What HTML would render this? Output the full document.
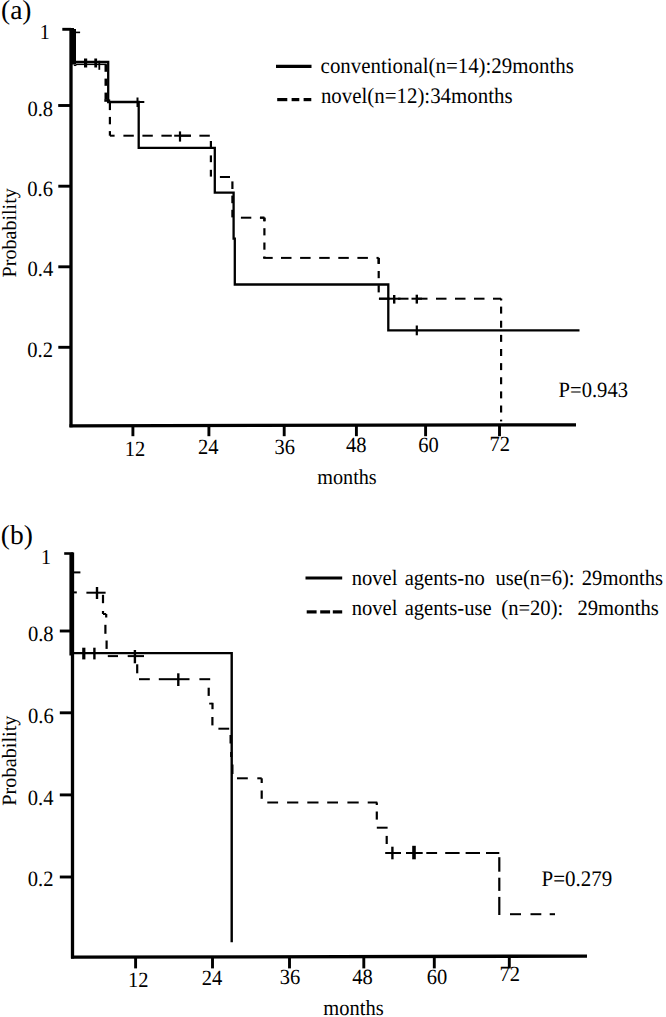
<!DOCTYPE html>
<html><head><meta charset="utf-8"><style>
html,body{margin:0;padding:0;background:#fff;}
svg{display:block;}
text{font-family:"Liberation Serif",serif;fill:#000;text-rendering:geometricPrecision;}
</style></head><body>
<svg width="666" height="1017" viewBox="0 0 666 1017">
<rect width="666" height="1017" fill="#fff"/>
<g stroke="#000" stroke-linecap="butt" fill="none">
<line x1="71.00" y1="28.00" x2="71.00" y2="427.20" stroke-width="3.30"/>
<line x1="69.50" y1="425.80" x2="576.00" y2="424.80" stroke-width="3.30"/>
<line x1="62.30" y1="29.30" x2="71.00" y2="29.30" stroke-width="2.90"/>
<line x1="58.20" y1="105.50" x2="71.00" y2="105.50" stroke-width="2.90"/>
<line x1="58.30" y1="186.20" x2="71.00" y2="186.20" stroke-width="2.90"/>
<line x1="58.30" y1="266.80" x2="71.00" y2="266.80" stroke-width="2.90"/>
<line x1="58.30" y1="347.30" x2="71.00" y2="347.30" stroke-width="2.90"/>
<line x1="70.00" y1="29.30" x2="74.00" y2="29.30" stroke-width="2.60"/>
<line x1="132.90" y1="425.00" x2="132.90" y2="436.20" stroke-width="2.90"/>
<line x1="208.90" y1="425.00" x2="208.90" y2="436.20" stroke-width="2.90"/>
<line x1="284.20" y1="425.00" x2="284.20" y2="436.20" stroke-width="2.90"/>
<line x1="356.40" y1="425.00" x2="356.40" y2="436.20" stroke-width="2.90"/>
<line x1="425.60" y1="425.00" x2="425.60" y2="436.20" stroke-width="2.90"/>
<line x1="499.50" y1="425.00" x2="499.50" y2="436.20" stroke-width="2.90"/>
<path d="M74.5 29.5 V61.9 H108.2 V102.0 H138.7 V147.9 H214.8 V192.7 H233.6 V238.6 H234.8 V284.5 H388.3 V330.3 H579.5" stroke-width="2.30" fill="none"/>
<line x1="137.50" y1="97.50" x2="137.50" y2="107.00" stroke-width="2.00"/>
<line x1="131.00" y1="102.00" x2="144.30" y2="102.00" stroke-width="2.00"/>
<line x1="416.80" y1="325.50" x2="416.80" y2="335.30" stroke-width="2.20"/>
<line x1="74.00" y1="29.00" x2="74.00" y2="64.50" stroke-width="4.00"/>
<path d="M73 32.4 H80.1" stroke-width="1.60" fill="none"/>
<path d="M76 64.3 H106.8" stroke-width="1.60" fill="none"/>
<line x1="73.80" y1="65.30" x2="76.40" y2="65.30" stroke-width="1.50"/>
<line x1="85.60" y1="58.50" x2="85.60" y2="67.50" stroke-width="3.20"/>
<line x1="95.70" y1="58.50" x2="95.70" y2="67.50" stroke-width="2.80"/>
<line x1="99.30" y1="60.80" x2="99.30" y2="69.80" stroke-width="1.80"/>
<line x1="105.80" y1="64.60" x2="105.80" y2="71.80" stroke-width="2.60"/>
<line x1="105.80" y1="78.60" x2="105.80" y2="85.80" stroke-width="2.60"/>
<line x1="105.80" y1="92.60" x2="105.80" y2="99.80" stroke-width="2.60"/>
<line x1="104.30" y1="100.60" x2="110.20" y2="100.60" stroke-width="2.40"/>
<line x1="109.90" y1="102.70" x2="109.90" y2="110.10" stroke-width="2.20"/>
<line x1="109.90" y1="116.90" x2="109.90" y2="124.30" stroke-width="2.20"/>
<line x1="109.90" y1="131.10" x2="109.90" y2="135.70" stroke-width="2.20"/>
<line x1="109.90" y1="135.70" x2="114.60" y2="135.70" stroke-width="2.00"/>
<line x1="123.40" y1="135.70" x2="133.80" y2="135.70" stroke-width="2.00"/>
<line x1="142.40" y1="135.70" x2="152.80" y2="135.70" stroke-width="2.00"/>
<line x1="161.40" y1="135.70" x2="171.80" y2="135.70" stroke-width="2.00"/>
<line x1="180.40" y1="135.70" x2="190.80" y2="135.70" stroke-width="2.00"/>
<line x1="199.40" y1="135.70" x2="209.80" y2="135.70" stroke-width="2.00"/>
<line x1="210.90" y1="141.00" x2="210.90" y2="147.80" stroke-width="2.20"/>
<line x1="210.90" y1="155.40" x2="210.90" y2="162.20" stroke-width="2.20"/>
<line x1="210.90" y1="169.80" x2="210.90" y2="176.60" stroke-width="2.20"/>
<line x1="219.90" y1="177.00" x2="230.00" y2="177.00" stroke-width="2.00"/>
<line x1="232.40" y1="181.40" x2="232.40" y2="189.00" stroke-width="2.20"/>
<line x1="232.40" y1="195.60" x2="232.40" y2="203.20" stroke-width="2.20"/>
<line x1="232.40" y1="209.80" x2="232.40" y2="217.40" stroke-width="2.20"/>
<line x1="240.90" y1="217.70" x2="251.30" y2="217.70" stroke-width="2.00"/>
<line x1="259.90" y1="217.70" x2="264.40" y2="217.70" stroke-width="2.00"/>
<line x1="260.10" y1="217.70" x2="264.40" y2="217.70" stroke-width="2.00"/>
<line x1="264.40" y1="217.70" x2="264.40" y2="221.40" stroke-width="2.20"/>
<line x1="264.40" y1="217.70" x2="264.40" y2="221.10" stroke-width="2.20"/>
<line x1="264.40" y1="228.20" x2="264.40" y2="235.40" stroke-width="2.20"/>
<line x1="264.40" y1="242.50" x2="264.40" y2="249.70" stroke-width="2.20"/>
<line x1="264.40" y1="256.80" x2="264.40" y2="257.90" stroke-width="2.20"/>
<line x1="263.20" y1="257.90" x2="272.70" y2="257.90" stroke-width="2.00"/>
<line x1="264.40" y1="256.60" x2="264.40" y2="257.90" stroke-width="2.20"/>
<line x1="281.00" y1="257.90" x2="291.50" y2="257.90" stroke-width="2.00"/>
<line x1="300.10" y1="257.90" x2="310.60" y2="257.90" stroke-width="2.00"/>
<line x1="319.20" y1="257.90" x2="329.70" y2="257.90" stroke-width="2.00"/>
<line x1="338.30" y1="257.90" x2="348.80" y2="257.90" stroke-width="2.00"/>
<line x1="357.40" y1="257.90" x2="367.90" y2="257.90" stroke-width="2.00"/>
<line x1="376.50" y1="257.90" x2="378.70" y2="257.90" stroke-width="2.00"/>
<line x1="378.70" y1="257.90" x2="378.70" y2="264.00" stroke-width="2.20"/>
<line x1="378.70" y1="271.00" x2="378.70" y2="278.20" stroke-width="2.20"/>
<line x1="378.70" y1="285.20" x2="378.70" y2="292.40" stroke-width="2.20"/>
<line x1="378.70" y1="257.90" x2="378.70" y2="263.70" stroke-width="2.20"/>
<line x1="379.00" y1="298.70" x2="389.50" y2="298.70" stroke-width="2.00"/>
<line x1="398.00" y1="298.70" x2="408.50" y2="298.70" stroke-width="2.00"/>
<line x1="417.00" y1="298.70" x2="427.50" y2="298.70" stroke-width="2.00"/>
<line x1="436.00" y1="298.70" x2="446.50" y2="298.70" stroke-width="2.00"/>
<line x1="455.00" y1="298.70" x2="465.50" y2="298.70" stroke-width="2.00"/>
<line x1="474.00" y1="298.70" x2="484.50" y2="298.70" stroke-width="2.00"/>
<line x1="493.00" y1="298.70" x2="501.10" y2="298.70" stroke-width="2.00"/>
<line x1="378.90" y1="298.70" x2="389.50" y2="298.70" stroke-width="2.00"/>
<line x1="501.10" y1="298.70" x2="501.10" y2="299.47" stroke-width="2.20"/>
<line x1="501.10" y1="306.60" x2="501.10" y2="313.60" stroke-width="2.20"/>
<line x1="501.10" y1="320.73" x2="501.10" y2="327.73" stroke-width="2.20"/>
<line x1="501.10" y1="334.86" x2="501.10" y2="341.86" stroke-width="2.20"/>
<line x1="501.10" y1="348.99" x2="501.10" y2="355.99" stroke-width="2.20"/>
<line x1="501.10" y1="363.12" x2="501.10" y2="370.12" stroke-width="2.20"/>
<line x1="501.10" y1="377.25" x2="501.10" y2="384.25" stroke-width="2.20"/>
<line x1="501.10" y1="391.38" x2="501.10" y2="398.38" stroke-width="2.20"/>
<line x1="501.10" y1="405.51" x2="501.10" y2="412.51" stroke-width="2.20"/>
<line x1="501.10" y1="419.64" x2="501.10" y2="421.40" stroke-width="2.20"/>
<line x1="501.10" y1="298.70" x2="501.10" y2="300.50" stroke-width="2.20"/>
<line x1="180.00" y1="131.40" x2="180.00" y2="141.60" stroke-width="2.20"/>
<line x1="174.20" y1="135.70" x2="191.00" y2="135.70" stroke-width="2.00"/>
<line x1="394.20" y1="295.00" x2="394.20" y2="303.60" stroke-width="2.40"/>
<line x1="388.00" y1="298.70" x2="400.50" y2="298.70" stroke-width="2.00"/>
<line x1="416.80" y1="294.70" x2="416.80" y2="303.60" stroke-width="2.40"/>
<line x1="411.50" y1="298.70" x2="422.00" y2="298.70" stroke-width="2.00"/>
<line x1="276.00" y1="66.30" x2="311.50" y2="66.30" stroke-width="3.20"/>
<line x1="277.20" y1="99.60" x2="287.30" y2="99.60" stroke-width="3.20"/>
<line x1="291.60" y1="99.60" x2="299.30" y2="99.60" stroke-width="3.20"/>
<line x1="303.60" y1="99.60" x2="311.30" y2="99.60" stroke-width="3.20"/>
<line x1="72.50" y1="552.50" x2="72.50" y2="958.60" stroke-width="3.30"/>
<line x1="70.30" y1="553.50" x2="70.30" y2="655.50" stroke-width="1.80"/>
<line x1="71.00" y1="957.20" x2="587.00" y2="956.10" stroke-width="3.30"/>
<line x1="64.20" y1="553.50" x2="73.20" y2="553.50" stroke-width="2.60"/>
<line x1="59.80" y1="631.00" x2="71.00" y2="631.00" stroke-width="2.90"/>
<line x1="59.80" y1="712.80" x2="71.00" y2="712.80" stroke-width="2.90"/>
<line x1="59.80" y1="794.90" x2="71.00" y2="794.90" stroke-width="2.90"/>
<line x1="59.80" y1="877.00" x2="71.00" y2="877.00" stroke-width="2.90"/>
<line x1="135.60" y1="956.50" x2="135.60" y2="968.40" stroke-width="2.90"/>
<line x1="212.50" y1="956.50" x2="212.50" y2="968.40" stroke-width="2.90"/>
<line x1="289.50" y1="956.50" x2="289.50" y2="968.40" stroke-width="2.90"/>
<line x1="363.80" y1="956.50" x2="363.80" y2="968.40" stroke-width="2.90"/>
<line x1="434.30" y1="956.50" x2="434.30" y2="968.40" stroke-width="2.90"/>
<line x1="509.30" y1="956.50" x2="509.30" y2="968.40" stroke-width="2.90"/>
<path d="M73 653.1 H231.7 V942.2" stroke-width="2.40" fill="none"/>
<line x1="83.80" y1="647.70" x2="83.80" y2="659.40" stroke-width="3.20"/>
<line x1="94.40" y1="647.70" x2="94.40" y2="659.40" stroke-width="2.40"/>
<line x1="73.50" y1="572.40" x2="80.40" y2="572.40" stroke-width="2.00"/>
<line x1="73.50" y1="592.40" x2="76.80" y2="592.40" stroke-width="2.00"/>
<line x1="86.40" y1="592.70" x2="105.60" y2="592.70" stroke-width="2.00"/>
<line x1="97.00" y1="587.00" x2="97.00" y2="599.00" stroke-width="2.40"/>
<line x1="103.00" y1="594.80" x2="103.00" y2="603.20" stroke-width="2.20"/>
<line x1="103.00" y1="611.00" x2="103.00" y2="614.00" stroke-width="2.20"/>
<line x1="103.00" y1="614.00" x2="106.20" y2="614.00" stroke-width="2.00"/>
<line x1="106.20" y1="614.00" x2="106.20" y2="617.50" stroke-width="2.20"/>
<line x1="105.40" y1="624.80" x2="105.40" y2="633.80" stroke-width="2.20"/>
<line x1="106.60" y1="640.50" x2="106.60" y2="648.90" stroke-width="2.20"/>
<line x1="107.80" y1="656.10" x2="118.00" y2="656.10" stroke-width="2.00"/>
<line x1="127.70" y1="656.10" x2="144.00" y2="656.10" stroke-width="2.00"/>
<line x1="134.90" y1="650.00" x2="134.90" y2="663.30" stroke-width="2.40"/>
<line x1="137.20" y1="664.30" x2="137.20" y2="673.30" stroke-width="2.20"/>
<line x1="139.00" y1="679.20" x2="149.80" y2="679.20" stroke-width="2.00"/>
<line x1="158.80" y1="679.20" x2="189.50" y2="679.20" stroke-width="2.00"/>
<line x1="178.30" y1="673.30" x2="178.30" y2="686.00" stroke-width="2.40"/>
<line x1="199.40" y1="679.20" x2="210.20" y2="679.20" stroke-width="2.00"/>
<line x1="208.70" y1="687.70" x2="208.70" y2="695.90" stroke-width="2.20"/>
<line x1="212.50" y1="702.80" x2="212.50" y2="709.20" stroke-width="2.20"/>
<line x1="209.20" y1="703.60" x2="212.50" y2="703.60" stroke-width="1.80"/>
<line x1="212.40" y1="717.00" x2="212.40" y2="725.40" stroke-width="2.20"/>
<line x1="218.40" y1="728.70" x2="229.20" y2="728.70" stroke-width="2.00"/>
<line x1="230.60" y1="735.00" x2="230.60" y2="743.50" stroke-width="2.20"/>
<line x1="231.20" y1="752.00" x2="231.20" y2="757.00" stroke-width="2.20"/>
<line x1="232.40" y1="764.50" x2="232.40" y2="774.00" stroke-width="2.20"/>
<line x1="237.00" y1="778.30" x2="247.80" y2="778.30" stroke-width="2.00"/>
<line x1="257.30" y1="778.30" x2="261.70" y2="778.30" stroke-width="2.00"/>
<line x1="261.70" y1="778.30" x2="261.70" y2="783.00" stroke-width="2.20"/>
<line x1="261.70" y1="790.50" x2="261.70" y2="798.80" stroke-width="2.20"/>
<line x1="267.30" y1="802.50" x2="278.10" y2="802.50" stroke-width="2.00"/>
<line x1="287.10" y1="802.50" x2="298.30" y2="802.50" stroke-width="2.00"/>
<line x1="307.30" y1="802.50" x2="318.50" y2="802.50" stroke-width="2.00"/>
<line x1="327.20" y1="802.50" x2="338.00" y2="802.50" stroke-width="2.00"/>
<line x1="347.40" y1="802.50" x2="358.70" y2="802.50" stroke-width="2.00"/>
<line x1="367.70" y1="802.50" x2="377.30" y2="802.50" stroke-width="2.00"/>
<line x1="376.80" y1="802.50" x2="376.80" y2="805.00" stroke-width="2.20"/>
<line x1="376.80" y1="811.50" x2="376.80" y2="819.60" stroke-width="2.20"/>
<line x1="376.80" y1="827.70" x2="387.60" y2="827.70" stroke-width="2.00"/>
<line x1="386.70" y1="835.90" x2="386.70" y2="844.00" stroke-width="2.20"/>
<line x1="385.20" y1="853.00" x2="401.00" y2="853.00" stroke-width="2.00"/>
<line x1="392.40" y1="846.70" x2="392.40" y2="859.30" stroke-width="2.40"/>
<line x1="406.00" y1="853.00" x2="422.70" y2="853.00" stroke-width="2.00"/>
<line x1="414.00" y1="845.80" x2="414.00" y2="859.30" stroke-width="3.60"/>
<line x1="426.30" y1="853.00" x2="437.10" y2="853.00" stroke-width="2.00"/>
<line x1="445.20" y1="853.00" x2="459.60" y2="853.00" stroke-width="2.00"/>
<line x1="465.60" y1="853.00" x2="480.00" y2="853.00" stroke-width="2.00"/>
<line x1="486.00" y1="853.00" x2="499.30" y2="853.00" stroke-width="2.00"/>
<line x1="499.30" y1="857.20" x2="499.30" y2="871.70" stroke-width="2.20"/>
<line x1="499.30" y1="877.70" x2="499.30" y2="890.90" stroke-width="2.20"/>
<line x1="499.30" y1="896.90" x2="499.30" y2="915.00" stroke-width="2.20"/>
<line x1="510.00" y1="914.20" x2="521.00" y2="914.20" stroke-width="2.00"/>
<line x1="530.50" y1="914.20" x2="541.30" y2="914.20" stroke-width="2.00"/>
<line x1="549.70" y1="914.20" x2="555.00" y2="914.20" stroke-width="2.00"/>
<line x1="305.50" y1="578.00" x2="342.20" y2="578.00" stroke-width="3.20"/>
<line x1="306.70" y1="611.90" x2="316.60" y2="611.90" stroke-width="3.20"/>
<line x1="320.20" y1="611.90" x2="330.10" y2="611.90" stroke-width="3.20"/>
<line x1="332.80" y1="611.90" x2="342.20" y2="611.90" stroke-width="3.20"/>
</g>
<g>
<text transform="translate(0.99 18.90) scale(1 1.000)" font-size="27.50">(a)</text>
<text transform="translate(39.64 39.40) scale(1 1.060)" font-size="20.00">1</text>
<text transform="translate(27.42 115.79) scale(1 1.060)" font-size="20.60">0.8</text>
<text transform="translate(27.22 195.99) scale(1 1.060)" font-size="20.60">0.6</text>
<text transform="translate(27.52 276.19) scale(1 1.060)" font-size="20.60">0.4</text>
<text transform="translate(27.22 356.69) scale(1 1.060)" font-size="20.60">0.2</text>
<text transform="translate(124.80 456.00) scale(1 1.060)" font-size="20.50">12</text>
<text transform="translate(197.90 453.90) scale(1 1.060)" font-size="20.50">24</text>
<text transform="translate(274.52 453.98) scale(1 1.060)" font-size="20.50">36</text>
<text transform="translate(345.89 451.98) scale(1 1.060)" font-size="20.50">48</text>
<text transform="translate(418.32 451.98) scale(1 1.060)" font-size="20.50">60</text>
<text transform="translate(489.55 451.00) scale(1 1.060)" font-size="20.50">72</text>
<text transform="translate(317.28 483.60) scale(1 1.060)" font-size="20.20">months</text>
<text transform="translate(558.60 397.49) scale(1 1.060)" font-size="20.60">P=0.943</text>
<text transform="translate(320.61 73.10) scale(1 1.060)" font-size="20.90">conventional(n=14):29months</text>
<text transform="translate(320.92 103.10) scale(1 1.060)" font-size="20.90">novel(n=12):34months</text>
<text transform="translate(0.79 544.20) scale(1 1.000)" font-size="27.50">(b)</text>
<text transform="translate(40.94 564.20) scale(1 1.060)" font-size="20.00">1</text>
<text transform="translate(27.92 641.39) scale(1 1.060)" font-size="20.60">0.8</text>
<text transform="translate(28.02 723.19) scale(1 1.060)" font-size="20.60">0.6</text>
<text transform="translate(27.82 804.89) scale(1 1.060)" font-size="20.60">0.4</text>
<text transform="translate(27.82 886.39) scale(1 1.060)" font-size="20.60">0.2</text>
<text transform="translate(128.00 986.80) scale(1 1.060)" font-size="20.50">12</text>
<text transform="translate(201.70 984.60) scale(1 1.060)" font-size="20.50">24</text>
<text transform="translate(279.82 984.38) scale(1 1.060)" font-size="20.50">36</text>
<text transform="translate(352.19 983.58) scale(1 1.060)" font-size="20.50">48</text>
<text transform="translate(426.72 983.58) scale(1 1.060)" font-size="20.50">60</text>
<text transform="translate(499.45 981.10) scale(1 1.060)" font-size="20.50">72</text>
<text transform="translate(323.37 1014.90) scale(1 1.060)" font-size="20.50">months</text>
<text transform="translate(541.49 886.29) scale(1 1.060)" font-size="21.00">P=0.279</text>
<text transform="translate(351.63 585.00) scale(1 1.060)" font-size="20.60">novel</text>
<text transform="translate(404.68 585.00) scale(1 1.060)" font-size="20.60">agents-no</text>
<text transform="translate(495.43 585.00) scale(1 1.060)" font-size="20.60">use(n=6):</text>
<text transform="translate(581.79 585.00) scale(1 1.060)" font-size="20.60">29months</text>
<text transform="translate(351.63 615.00) scale(1 1.060)" font-size="20.60">novel</text>
<text transform="translate(404.68 615.00) scale(1 1.060)" font-size="20.60">agents-use</text>
<text transform="translate(501.29 615.00) scale(1 1.060)" font-size="20.60">(n=20):</text>
<text transform="translate(577.49 615.00) scale(1 1.060)" font-size="20.60">29months</text>
<text transform="translate(16.00 276.90) rotate(-90)" x="-0.58" y="0" font-size="20.10">Probability</text>
<text transform="translate(16.20 805.10) rotate(-90)" x="-0.59" y="0" font-size="20.30">Probability</text>
</g>
</svg>
</body></html>
